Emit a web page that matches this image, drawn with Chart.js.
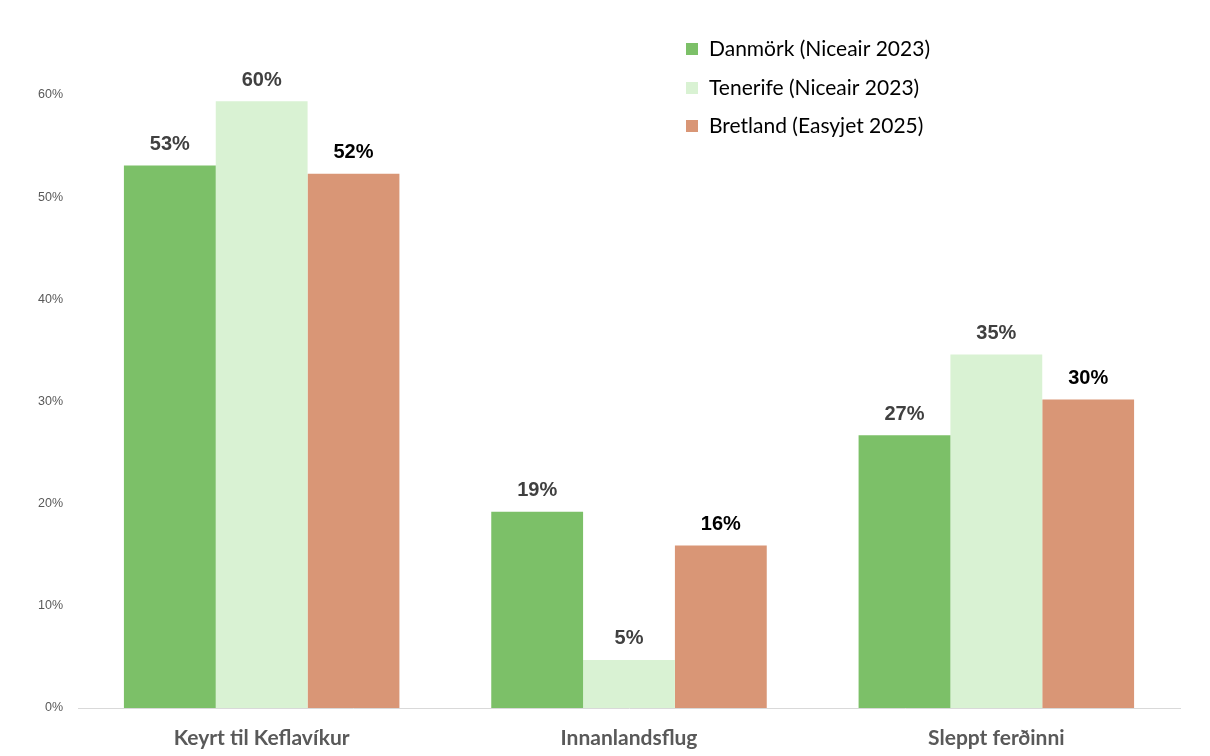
<!DOCTYPE html>
<html>
<head>
<meta charset="utf-8">
<script src="https://cdn.jsdelivr.net/npm/chart.js@4/dist/chart.umd.min.js"></script>
<style>
html,body{margin:0;padding:0;background:#fff;}
#wrap{width:1210px;height:756px;position:relative;}
</style>
</head>
<body>
<div id="wrap"><canvas id="c" width="1210" height="756"></canvas></div>
<script>
const categories = ["Keyrt til Keflavíkur", "Innanlandsflug", "Sleppt ferðinni"];
const seriesNames = ["Danmörk (Niceair 2023)", "Tenerife (Niceair 2023)", "Bretland (Easyjet 2025)"];
const danmork = [53.1, 19.2, 26.7];
const tenerife = [59.4, 4.7, 34.6];
const bretland = [52.3, 15.9, 30.2];
const valueLabels = [["53%", "19%", "27%"], ["60%", "5%", "35%"], ["52%", "16%", "30%"]];
const yTicks = [0, 10, 20, 30, 40, 50, 60];

const colors = ["#7cc068", "#d9f2d3", "#d99676"];
const labelColors = ["#404040", "#404040", "#000000"];

const valueLabelPlugin = {
  id: 'valueLabels',
  afterDatasetsDraw(chart) {
    const ctx = chart.ctx;
    ctx.save();
    ctx.font = 'bold 20px "Liberation Sans", Arial, sans-serif';
    ctx.textAlign = 'center';
    ctx.textBaseline = 'middle';
    chart.data.datasets.forEach((ds, i) => {
      const meta = chart.getDatasetMeta(i);
      meta.data.forEach((bar, j) => {
        ctx.fillStyle = labelColors[i];
        ctx.fillText(valueLabels[i][j], bar.x, bar.y - 21);
      });
    });
    ctx.restore();
  }
};

const legendPlugin = {
  id: 'customLegend',
  afterDraw(chart) {
    const ctx = chart.ctx;
    ctx.save();
    ctx.font = '21px Lato, "Open Sans", sans-serif';
    ctx.textBaseline = 'middle';
    ctx.textAlign = 'left';
    const x0 = 686, ys = [49, 88, 126];
    chart.data.datasets.forEach((ds, i) => {
      ctx.fillStyle = colors[i];
      ctx.fillRect(x0, ys[i] - 6, 12, 12);
      ctx.fillStyle = '#000000';
      ctx.fillText(ds.label, x0 + 23, ys[i]);
    });
    ctx.restore();
  }
};

new Chart(document.getElementById('c'), {
  type: 'bar',
  data: {
    labels: categories,
    datasets: [
      { label: seriesNames[0], data: danmork, backgroundColor: colors[0] },
      { label: seriesNames[1], data: tenerife, backgroundColor: colors[1] },
      { label: seriesNames[2], data: bretland, backgroundColor: colors[2] }
    ]
  },
  options: {
    responsive: false,
    animation: false,
    layout: { padding: { top: 95, right: 30, bottom: 0, left: 0 } },
    datasets: { bar: { categoryPercentage: 0.75, barPercentage: 1.0, borderWidth: 0 } },
    plugins: {
      legend: { display: false },
      tooltip: { enabled: false }
    },
    scales: {
      x: {
        grid: { display: false, drawTicks: false },
        border: { display: true, color: '#d9d9d9', width: 1 },
        ticks: {
          color: '#595959',
          font: { family: 'Lato, "Open Sans", sans-serif', size: 21, weight: 'bold' },
          padding: 18
        },
        afterFit(scale) { scale.height = 48; }
      },
      y: {
        min: 0,
        max: 60,
        grid: { display: false, drawTicks: false },
        border: { display: false },
        afterBuildTicks(scale) { scale.ticks = yTicks.map(v => ({ value: v })); },
        ticks: {
          color: '#595959',
          font: { family: '"Liberation Sans", Arial, sans-serif', size: 12.5 },
          padding: 15,
          callback: v => v + '%'
        },
        afterFit(scale) { scale.width = 78; }
      }
    }
  },
  plugins: [valueLabelPlugin, legendPlugin]
});
</script>
</body>
</html>
